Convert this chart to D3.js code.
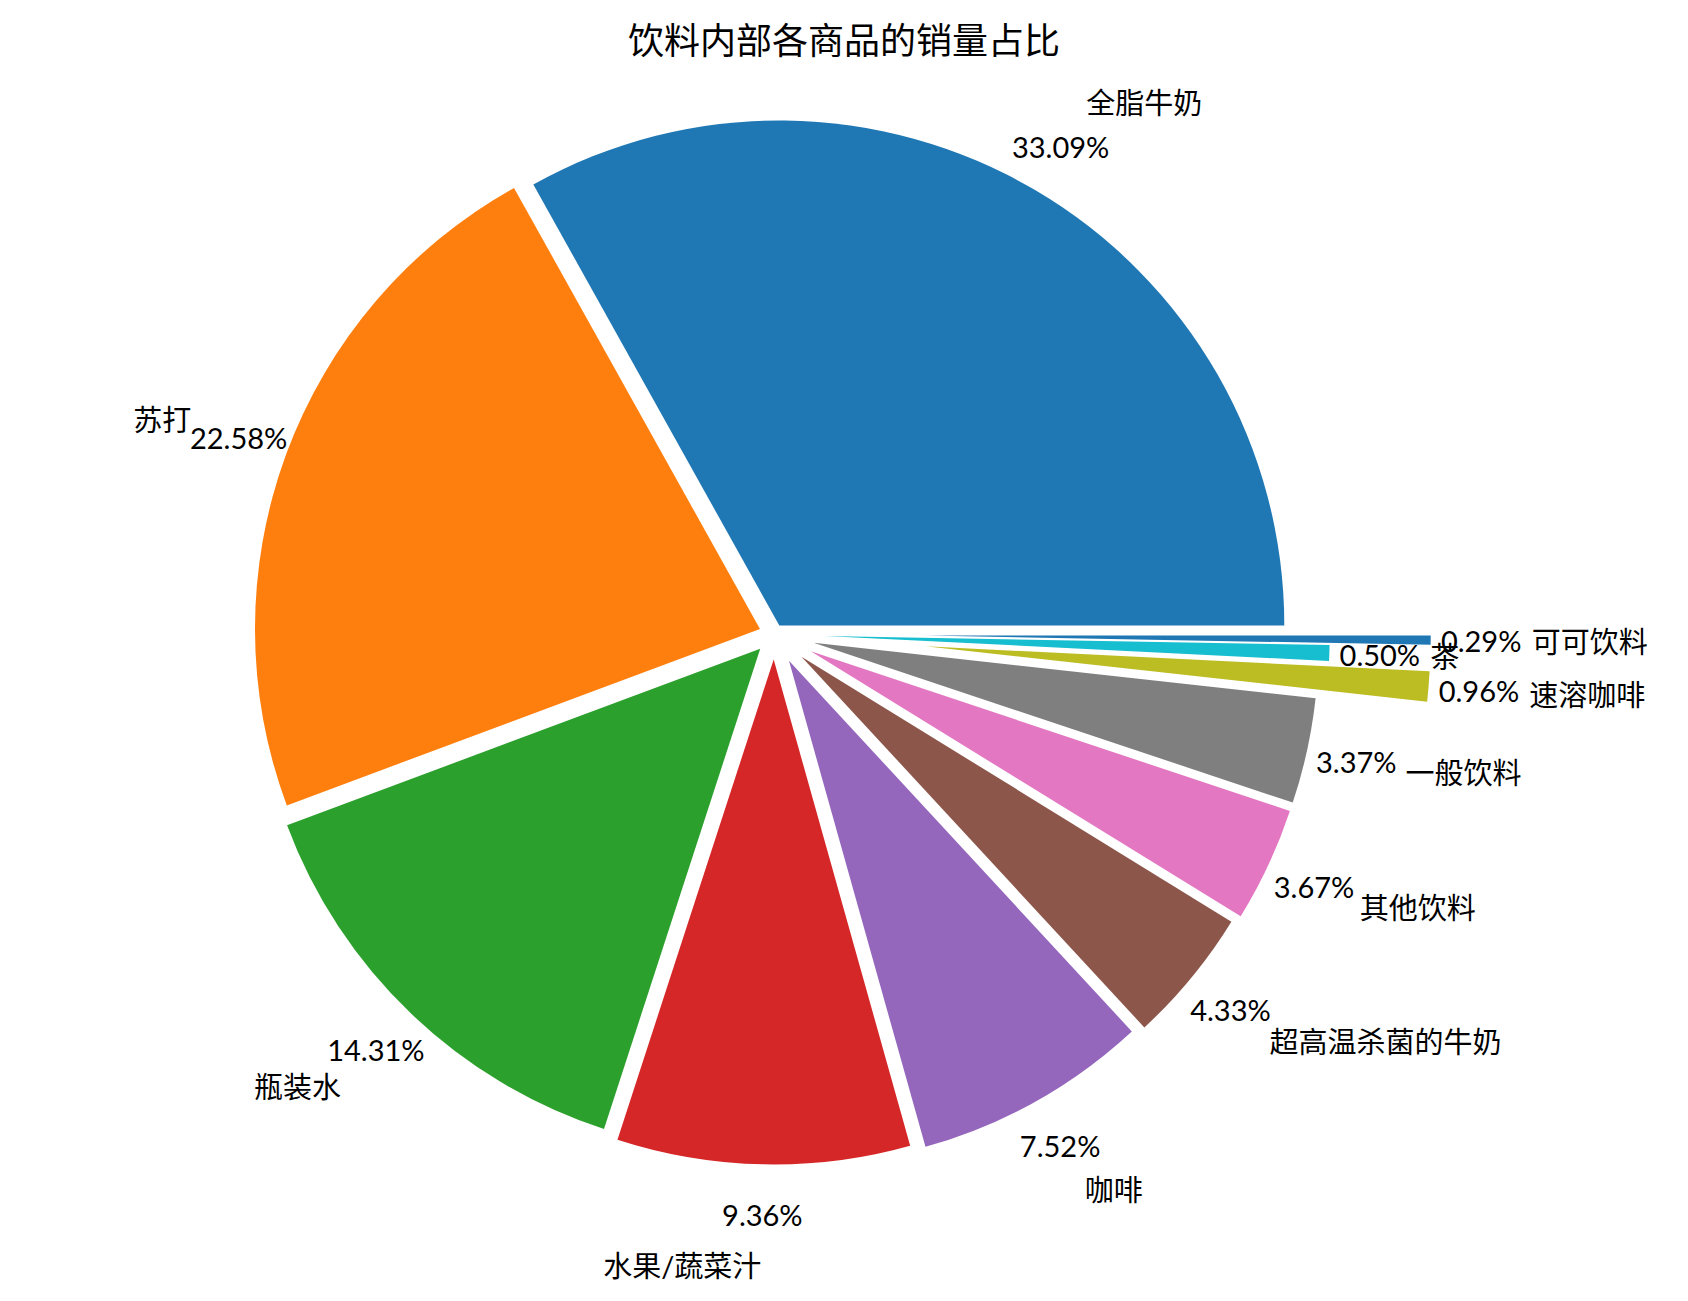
<!DOCTYPE html>
<html>
<head>
<meta charset="utf-8">
<script src="https://cdn.jsdelivr.net/npm/d3@7"></script>
<style>
  html, body { margin: 0; padding: 0; background: #fff; }
  text { font-family: Lato, "Noto Sans CJK SC", sans-serif; fill: #000; }
</style>
</head>
<body>
<svg id="chart" width="1688" height="1301"></svg>
<script>
// ---- data ----
const categories = ['全脂牛奶','苏打','瓶装水','水果/蔬菜汁','咖啡','超高温杀菌的牛奶','其他饮料','一般饮料','速溶咖啡','茶','可可饮料'];
const shares = [33.09, 22.58, 14.31, 9.36, 7.52, 4.33, 3.67, 3.37, 0.96, 0.50, 0.29];
const explode = [0.02, 0.03, 0.04, 0.05, 0.06, 0.07, 0.08, 0.08, 0.3, 0.1, 0.3];
const palette = ['#1f77b4','#ff7f0e','#2ca02c','#d62728','#9467bd','#8c564b','#e377c2','#7f7f7f','#bcbd22','#17becf'];
const title = '饮料内部各商品的销量占比';

// ---- layout ----
const W = 1688, H = 1301;
const cx = 774.2, cy = 634.2, R = 505;
const labelDist = 1.2, pctDist = 1.1;

const svg = d3.select('#chart');
svg.append('rect').attr('width', W).attr('height', H).attr('fill', '#fff');

svg.append('text')
  .attr('x', W / 2).attr('y', 40)
  .attr('text-anchor', 'middle')
  .attr('dominant-baseline', 'central')
  .style('font-size', '36px')
  .text(title);

const data = categories.map((c, i) => ({ name: c, value: shares[i], explode: explode[i], color: palette[i % palette.length] }));

// matplotlib style: start at 3 o'clock, counter-clockwise
const pie = d3.pie().sort(null).value(d => d.value)
  .startAngle(Math.PI / 2).endAngle(Math.PI / 2 - 2 * Math.PI);
const arcs = pie(data);
const arc = d3.arc().innerRadius(0).outerRadius(R);

const g = svg.append('g').attr('transform', `translate(${cx},${cy})`);

arcs.forEach(a => {
  const mid = (a.startAngle + a.endAngle) / 2;
  a.ux = Math.sin(mid); a.uy = -Math.cos(mid);
  a.ox = a.data.explode * R * a.ux;
  a.oy = a.data.explode * R * a.uy;
});

g.selectAll('path.wedge').data(arcs).join('path')
  .attr('class', 'wedge')
  .attr('d', arc)
  .attr('transform', a => `translate(${a.ox},${a.oy})`)
  .attr('fill', a => a.data.color);

// category labels
g.selectAll('text.lbl').data(arcs).join('text')
  .attr('class', 'lbl')
  .attr('x', a => a.ox + labelDist * R * a.ux)
  .attr('y', a => a.oy + labelDist * R * a.uy)
  .attr('text-anchor', a => (a.ox + labelDist * R * a.ux) > 0 ? 'start' : 'end')
  .attr('dominant-baseline', 'central')
  .style('font-size', '29px')
  .text(a => a.data.name);

// percentage labels
g.selectAll('text.pct').data(arcs).join('text')
  .attr('class', 'pct')
  .attr('x', a => a.ox + pctDist * R * a.ux)
  .attr('y', a => a.oy + pctDist * R * a.uy)
  .attr('text-anchor', 'middle')
  .attr('dominant-baseline', 'central')
  .style('font-size', '29px')
  .text(a => a.data.value.toFixed(2) + '%');
</script>
</body>
</html>
